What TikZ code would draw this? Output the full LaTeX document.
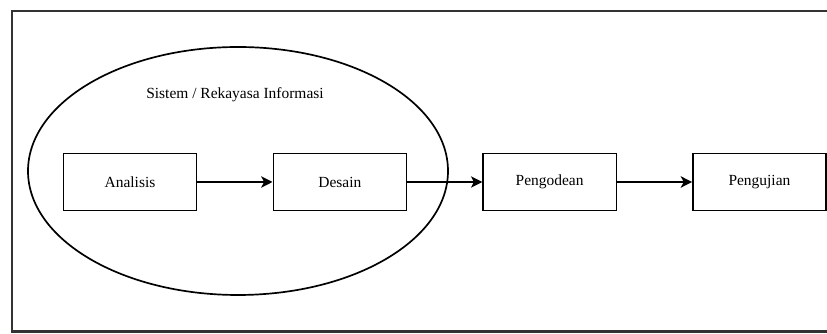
\documentclass[tikz,border=0pt]{standalone}
\usepackage{fontspec}
\setmainfont{Liberation Serif}
\usetikzlibrary{positioning,arrows.meta}
\tikzset{
	tahap/.style={draw,line width=1pt,minimum width=3.33cm,minimum height=1.43cm,inner sep=0pt},
	alur/.style={-{Stealth[length=8pt,width=8pt,inset=2pt]},line width=1.8pt}
}
\begin{document}
\begin{tikzpicture}[font=\fontsize{11}{13}\selectfont,node distance=1.88cm]
				\useasboundingbox (0,0) rectangle (20.675,8.35);
				\draw[line width=1.6pt,black!80] (20.9,8.075) -- (0.3,8.075) -- (0.3,0.06) -- (20.9,0.06);
				\draw[line width=1.2pt] (5.95,4.075) ellipse (5.25 and 3.1);
				\node (judul) at (5.875,5.975) {Sistem / Rekayasa Informasi};
				\node[tahap] (analisis) at (3.25,3.8) {Analisis};
				\node[tahap,right=of analisis] (desain) {Desain};
				\node[tahap,right=of desain] (pengodean) {Pengodean};
				\node[tahap,right=of pengodean] (pengujian) {Pengujian};
				\draw[alur] (analisis) -- (desain);
				\draw[alur] (desain) -- (pengodean);
				\draw[alur] (pengodean) -- (pengujian);
			\end{tikzpicture}
\end{document}
